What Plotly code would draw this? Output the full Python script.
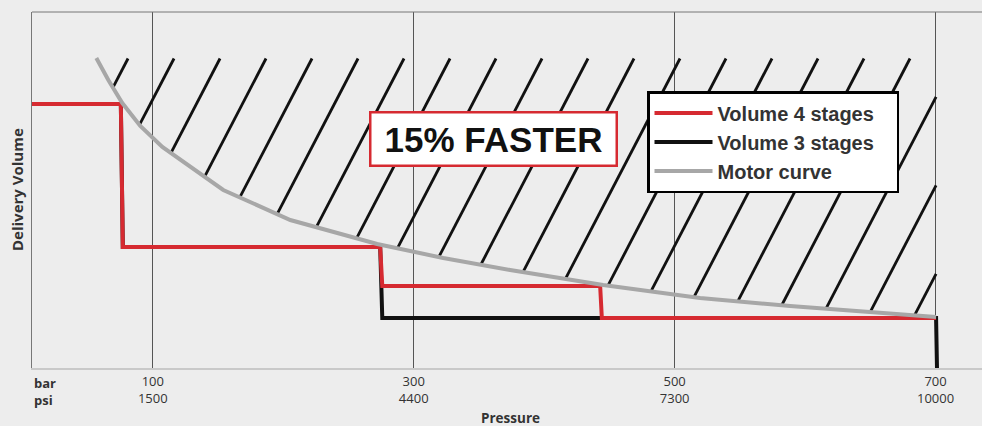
import numpy as np
import plotly.graph_objects as go

# ---- data (pressure in bar, delivery volume in relative units) ----
tick_bar = [100, 300, 500, 700]
tick_psi = [1500, 4400, 7300, 10000]

p_4stages = [0, 75.5, 77.0, 274.3, 275.9, 442.9, 444.2, 700.4]
v_4stages = [264, 264, 121, 121, 82, 82, 50, 50]

p_3stages = [0, 75.5, 77.0, 274.3, 275.9, 700.4, 701.1]
v_3stages = [264, 264, 121, 121, 50, 50, 0]

p_motor = [56.7, 65.9, 76.6, 90.4, 107.3, 154.0, 205.4, 272.0, 322.6, 373.9,
           445.2, 519.5, 588.5, 642.1, 700.4]
v_motor = [310, 288, 265, 242, 221, 178, 148, 124, 110, 98, 83, 70, 62, 57, 51]

# ---- style constants ----
RED = "#d62a31"
BLACK = "#111111"
GRAY = "#a7a7a7"
BG = "#ededed"
X_RANGE = [7.4, 735.6]
Y_RANGE = [0, 356]
PAD = "\u00a0\u00a0\u00a0"  # invisible right padding inside the legend box

# hatch pattern (region above the motor curve)
HATCH_X0 = 81.0       # first hatch line, x at top
HATCH_STEP = 35.26    # spacing in bar
HATCH_SLOPE = 0.3985  # bar per volume unit
hatch_top = v_motor[0] - 0.5
x_max = p_motor[-1]


def curve(x):
    return np.interp(x, p_motor, v_motor)


hx, hy = [], []
for k in range(40):
    xt = HATCH_X0 + k * HATCH_STEP
    if xt > x_max:
        v_start = hatch_top - (xt - x_max) / HATCH_SLOPE
        if v_start <= curve(x_max):
            continue
    else:
        v_start = hatch_top
    vs = np.linspace(v_start, 0, 4000)
    xs = xt - HATCH_SLOPE * (hatch_top - vs)
    f = vs - curve(xs)
    idx = np.argmax(f <= 0)
    if idx == 0:
        continue
    a, b = f[idx - 1], f[idx]
    t = a / (a - b)
    v_end = vs[idx - 1] + t * (vs[idx] - vs[idx - 1])
    x_end = xt - HATCH_SLOPE * (hatch_top - v_end)
    x_start = xt - HATCH_SLOPE * (hatch_top - v_start)
    hx += [x_start, x_end, None]
    hy += [v_start, v_end, None]

fig = go.Figure()
fig.add_trace(go.Scatter(x=hx, y=hy, mode="lines", line=dict(color=BLACK, width=2.8),
                         showlegend=False, hoverinfo="skip"))
fig.add_trace(go.Scatter(x=p_3stages, y=v_3stages, mode="lines", name="Volume 3 stages",
                         line=dict(color=BLACK, width=4), legendrank=2))
fig.add_trace(go.Scatter(x=p_4stages, y=v_4stages, mode="lines", name="Volume 4 stages" + PAD,
                         line=dict(color=RED, width=4), legendrank=1))
fig.add_trace(go.Scatter(x=p_motor, y=v_motor, mode="lines", name="Motor curve",
                         line=dict(color=GRAY, width=4), legendrank=3))

ticktext = [f"{b}<br>{p}" for b, p in zip(tick_bar, tick_psi)]

ax_l, ax_r, ax_t, ax_b = 32, 982, 12, 368


def paper_x(px):
    return (px - ax_l) / (ax_r - ax_l)


def paper_y(py):
    return (ax_b - py) / (ax_b - ax_t)


fig.update_layout(
    width=982, height=426,
    margin=dict(l=ax_l, r=982 - ax_r, t=ax_t, b=426 - ax_b, autoexpand=False),
    paper_bgcolor=BG, plot_bgcolor=BG,
    font=dict(family="Open Sans", color="#333333"),
    xaxis=dict(range=X_RANGE, tickvals=tick_bar, ticktext=ticktext,
               showgrid=True, gridcolor="#555555", gridwidth=1,
               showline=True, linecolor="#c9c9c9", linewidth=2,
               ticks="", zeroline=False, automargin=False,
               tickfont=dict(family="Open Sans", size=13, color="#333333")),
    yaxis=dict(range=Y_RANGE, showticklabels=False, showgrid=False, zeroline=False,
               showline=True, linecolor="#777777", linewidth=1, ticks="",
               automargin=False),
    legend=dict(x=paper_x(647), y=paper_y(91), xanchor="left", yanchor="top",
                bgcolor="white", bordercolor="black", borderwidth=2.5,
                itemwidth=58, tracegroupgap=0,
                font=dict(family="Liberation Sans", size=20, weight="bold",
                          color="#333333")),
    shapes=[dict(type="line", xref="paper", yref="paper", x0=0, x1=1, y0=1, y1=1,
                 line=dict(color="#777777", width=1))],
    annotations=[
        dict(x=361.3, y=228.7, xref="x", yref="y", text="<b>15% FASTER</b>",
             showarrow=False, font=dict(family="Liberation Sans", size=35, color="#111111"),
             bgcolor="white", bordercolor=RED, borderwidth=2.5, borderpad=0,
             width=244, height=51),
        dict(x=0, y=0, xref="paper", yref="paper", xanchor="left", yanchor="top",
             yshift=-4, text="<b>bar</b><br><b>psi</b>", align="left", showarrow=False,
             font=dict(family="Open Sans", size=13, color="#333333")),
        dict(x=paper_x(511), y=paper_y(418), xref="paper", yref="paper",
             xanchor="center", yanchor="middle", text="<b>Pressure</b>",
             showarrow=False, font=dict(family="Open Sans", size=13.5, color="#333333")),
        dict(x=paper_x(17), y=paper_y(190), xref="paper", yref="paper",
             xanchor="center", yanchor="middle", text="<b>Delivery Volume</b>",
             textangle=-90, showarrow=False,
             font=dict(family="Open Sans", size=15, color="#333333")),
    ],
)

fig.write_html(
    "out.html",
    config={"displayModeBar": False},
    post_script="document.body.style.margin='0';document.body.style.overflow='hidden';"
                "document.body.style.background='#ededed';",
)
